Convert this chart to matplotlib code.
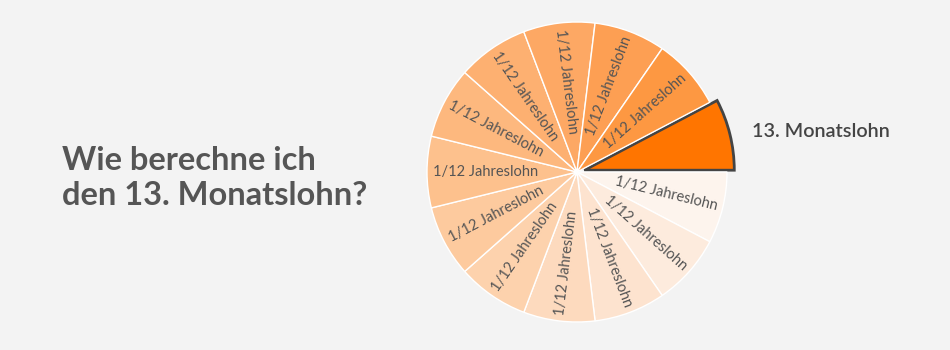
import matplotlib.pyplot as plt

plt.rcParams['font.family'] = ['Lato', 'DejaVu Sans']

bg = '#f3f3f3'
title = 'Wie berechne ich\nden 13. Monatslohn?'
highlight_label = '13. Monatslohn'
slice_label = '1/12 Jahreslohn'

# 13 equal parts: the 13th salary first, then the twelve monthly parts clockwise
shares = [1] * 13
labels = [''] + [slice_label] * 12
colors = ['#ff7500',
          '#fdf4ed', '#fdebdd', '#fde3cf', '#fddabe', '#fdd2ad', '#fdca9e',
          '#fdc18d', '#fdb87e', '#fdb071', '#fda864', '#fd9f53', '#fd9842']
explode = [0.05] + [0] * 12

fig = plt.figure(figsize=(9.5, 3.5), dpi=100, facecolor=bg)

fig.text(62 / 950, 1 - 178 / 350, title, fontsize=23.5, fontweight='bold',
         color='#555555', ha='left', va='center', linespacing=1.25)

ax = fig.add_axes([(577 - 160) / 950, (178 - 160) / 350, 320 / 950, 320 / 350])
ax.set_facecolor(bg)
wedges, texts = ax.pie(shares, labels=labels, colors=colors, explode=explode,
                       startangle=360 / 13, counterclock=False,
                       labeldistance=0.61, rotatelabels=True,
                       wedgeprops=dict(edgecolor='white', linewidth=1))
for t in texts:
    t.set_ha('center')
    t.set_va('center')
    t.set_fontsize(10.5)
    t.set_color('#555555')
wedges[0].set_edgecolor('#444444')
wedges[0].set_linewidth(2)
ax.set_xlim(-160 / 150, 160 / 150)
ax.set_ylim(-160 / 150, 160 / 150)
ax.axis('off')

fig.text(752 / 950, 1 - 131 / 350, highlight_label, fontsize=14.2,
         fontweight='semibold', color='#444444', ha='left', va='center')

fig.savefig('out.png', facecolor=bg)
